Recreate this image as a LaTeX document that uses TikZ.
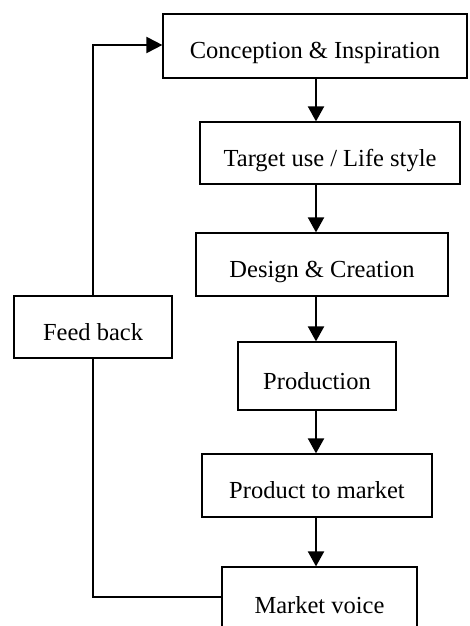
\documentclass[tikz,border=0pt]{standalone}
\usepackage{fontspec}
\setmainfont{Liberation Serif}
\usetikzlibrary{arrows.meta}
\begin{document}
\begin{tikzpicture}[x=1pt,y=-1pt,
  stagebox/.style={draw, line width=1.2pt, rectangle, inner sep=0pt, text height=26pt, text depth=0pt, font=\fontsize{24.5}{28}\selectfont},
  flow/.style={line width=2pt, -{Triangle[width=16pt,length=15pt]}},
  back/.style={line width=1.5pt}]
\useasboundingbox (0,0) rectangle (470,626);
\begin{scope}
\clip (0,0) rectangle (470,626);
\node[stagebox, minimum width=304pt, minimum height=64pt] (b1) at (315,46) {Conception \& Inspiration};
\node[stagebox, minimum width=260pt, minimum height=62pt] (b2) at (330,153) {Target use / Life style};
\node[stagebox, minimum width=252pt, minimum height=63pt] (b3) at (322,264.5) {Design \& Creation};
\node[stagebox, minimum width=158pt, minimum height=68pt] (b4) at (317,376) {Production};
\node[stagebox, minimum width=230pt, minimum height=63pt] (b5) at (317,485.5) {Product to market};
\node[stagebox, minimum width=195pt, minimum height=76pt] (b6) at (319.5,605) {};
\node[font=\fontsize{24.5}{28}\selectfont, anchor=base] (b6t) at (319.5,613) {Market voice};
\node[stagebox, minimum width=158pt, minimum height=62pt] (fb) at (93,327) {Feed back};
\coordinate (c1) at (316,0);
\draw[flow] (b1.south -| c1) -- (b2.north -| c1);
\draw[flow] (b2.south -| c1) -- (b3.north -| c1);
\draw[flow] (b3.south -| c1) -- (b4.north -| c1);
\draw[flow] (b4.south -| c1) -- (b5.north -| c1);
\draw[flow] (b5.south -| c1) -- (b6.north -| c1);
\coordinate (top) at (93,45);
\coordinate (bot) at (93,597);
\draw[back] (fb.north) -- (top) -- (top -| b1.west) [line width=2pt, -{Triangle[width=16pt,length=16pt]}];
\draw[back] (fb.south) -- (bot) -- (bot -| b6.west);
\end{scope}
\end{tikzpicture}
\end{document}
